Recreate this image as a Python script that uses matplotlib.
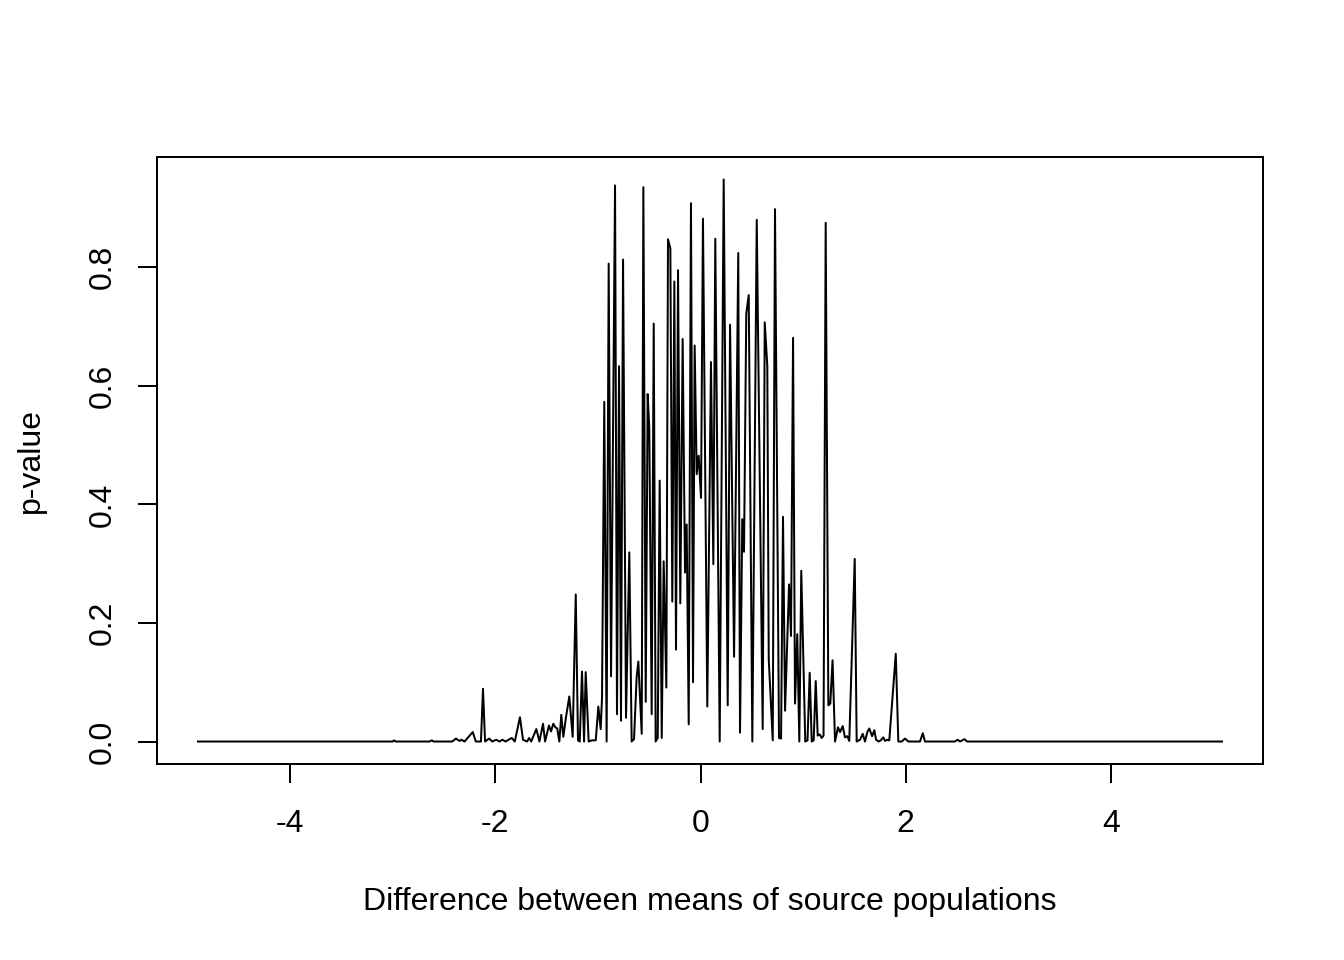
import matplotlib
matplotlib.use("Agg")
import matplotlib.pyplot as plt

# ── Data ──────────────────────────────────
diff_means = [
    -4.898, -3.00, -2.987, -2.97, -2.64, -2.62, -2.60, -2.42,
    -2.383, -2.35, -2.33, -2.30, -2.22, -2.19, -2.14, -2.12, -2.10,
    -2.06, -2.03, -1.99, -1.96, -1.93, -1.90, -1.84, -1.81,
    -1.76, -1.73, -1.69, -1.67, -1.65, -1.60, -1.57, -1.535,
    -1.515, -1.477, -1.457, -1.435, -1.415, -1.396, -1.376, -1.357,
    -1.337, -1.311, -1.279, -1.246, -1.216, -1.194, -1.177, -1.155,
    -1.135, -1.119, -1.090, -1.060, -1.021, -0.996, -0.973, -0.960,
    -0.938, -0.915, -0.895, -0.872, -0.833, -0.814, -0.794, -0.775,
    -0.755, -0.726, -0.694, -0.671, -0.648, -0.622, -0.606, -0.573,
    -0.557, -0.534, -0.515, -0.499, -0.476, -0.456, -0.437, -0.417,
    -0.398, -0.378, -0.359, -0.333, -0.317, -0.294, -0.275, -0.255,
    -0.239, -0.219, -0.197, -0.174, -0.151, -0.135, -0.115, -0.093,
    -0.073, -0.057, -0.037, -0.018, 0.005, 0.024, 0.066, 0.102,
    0.125, 0.144, 0.187, 0.226, 0.265, 0.288, 0.327, 0.368,
    0.385, 0.407, 0.424, 0.446, 0.470, 0.505, 0.548, 0.606,
    0.626, 0.651, 0.665, 0.704, 0.726, 0.765, 0.785, 0.804,
    0.824, 0.863, 0.882, 0.902, 0.921, 0.943, 0.963, 0.982,
    1.021, 1.043, 1.064, 1.084, 1.103, 1.123, 1.142, 1.162,
    1.181, 1.199, 1.220, 1.246, 1.265, 1.287, 1.311, 1.340,
    1.360, 1.386, 1.408, 1.431, 1.450, 1.503, 1.522, 1.555,
    1.581, 1.603, 1.626, 1.645, 1.672, 1.694, 1.711, 1.737,
    1.756, 1.782, 1.798, 1.821, 1.840, 1.903, 1.928, 1.961,
    1.993, 2.025, 2.139, 2.166, 2.188, 2.48, 2.505, 2.53,
    2.573, 2.597, 5.083,
]
p_values = [
    0.0, 0.0, 0.002, 0.0, 0.0, 0.002, 0.0, 0.0,
    0.005, 0.001, 0.003, 0.0, 0.016, 0.0, 0.0, 0.089, 0.0,
    0.005, 0.0, 0.003, 0.0, 0.003, 0.0, 0.006, 0.0,
    0.041, 0.003, 0.0, 0.006, 0.0, 0.021, 0.0, 0.030,
    0.0, 0.027, 0.017, 0.030, 0.024, 0.022, 0.0, 0.045,
    0.008, 0.041, 0.076, 0.008, 0.248, 0.002, 0.0, 0.118,
    0.0, 0.117, 0.0, 0.002, 0.002, 0.059, 0.021, 0.074,
    0.573, 0.0, 0.806, 0.110, 0.938, 0.046, 0.633, 0.035,
    0.813, 0.040, 0.319, 0.0, 0.004, 0.110, 0.135, 0.013,
    0.935, 0.067, 0.586, 0.527, 0.046, 0.705, 0.0, 0.006,
    0.440, 0.006, 0.304, 0.091, 0.847, 0.832, 0.236, 0.776,
    0.155, 0.795, 0.233, 0.679, 0.285, 0.366, 0.029, 0.908,
    0.100, 0.668, 0.451, 0.482, 0.411, 0.882, 0.059, 0.640,
    0.299, 0.848, 0.0, 0.948, 0.061, 0.703, 0.143, 0.824,
    0.015, 0.375, 0.320, 0.722, 0.753, 0.0, 0.880, 0.021,
    0.707, 0.634, 0.139, 0.002, 0.898, 0.006, 0.005, 0.379,
    0.052, 0.265, 0.178, 0.681, 0.064, 0.181, 0.0, 0.288,
    0.0, 0.002, 0.116, 0.0, 0.002, 0.102, 0.010, 0.012,
    0.006, 0.010, 0.875, 0.061, 0.064, 0.137, 0.0, 0.024,
    0.016, 0.026, 0.007, 0.009, 0.001, 0.308, 0.0, 0.003,
    0.013, 0.0, 0.016, 0.022, 0.009, 0.019, 0.003, 0.0,
    0.002, 0.007, 0.001, 0.003, 0.002, 0.148, 0.0, 0.0,
    0.005, 0.0, 0.0, 0.014, 0.0, 0.0, 0.003, 0.0,
    0.004, 0.0, 0.0,
]
x_ticks = [-4, -2, 0, 2, 4]
y_ticks = [0.0, 0.2, 0.4, 0.6, 0.8]

# ── Style (R base graphics look) ──────────
plt.rcParams["font.family"] = ["Liberation Sans", "DejaVu Sans"]
plt.rcParams["font.size"] = 12

fig = plt.figure(figsize=(7, 5), dpi=192)
W, H = 1344, 960
ax = fig.add_axes([157 / W, 1 - 764 / H, (1263 - 157) / W, (764 - 157) / H])

ax.plot(diff_means, p_values, color="black", lw=0.75)

# R pads the data range by 4% on each side
xr = max(diff_means) - min(diff_means)
yr = max(p_values) - min(p_values)
ax.set_xlim(min(diff_means) - 0.04 * xr, max(diff_means) + 0.04 * xr)
ax.set_ylim(min(p_values) - 0.04 * yr, max(p_values) + 0.04 * yr)

ax.set_xticks(x_ticks)
ax.set_xticklabels([str(t) for t in x_ticks])
ax.set_yticks(y_ticks)
ax.set_yticklabels([f"{t:.1f}" for t in y_ticks])

for s in ax.spines.values():
    s.set_linewidth(0.75)
ax.tick_params(direction="out", length=7.2, width=0.75, labelsize=12)
ax.tick_params(axis="x", pad=9.5)
ax.tick_params(axis="y", pad=7.5, labelrotation=90)
for lab in ax.get_yticklabels():
    lab.set_va("center")

fig.text((157 + 1263) / 2 / W, 1 - 910 / H,
         "Difference between means of source populations",
         ha="center", va="baseline", fontsize=12)
fig.text(30.5 / W, 1 - 460.5 / H, "p-value",
         rotation=90, ha="center", va="center", fontsize=12)

fig.savefig("out.png", dpi=192)
